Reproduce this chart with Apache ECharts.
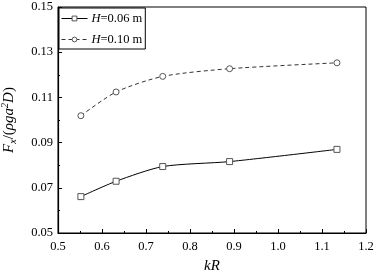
<!DOCTYPE html>
<html>
<head>
<meta charset="utf-8">
<script src="https://cdn.jsdelivr.net/npm/echarts@6/dist/echarts.min.js"></script>
<style>
  html, body { margin: 0; padding: 0; background: #fff; }
  #chart { width: 376px; height: 275px; }
</style>
</head>
<body>
<div id="chart"></div>
<script>
// kR vs Fx/(rho g a^2 D)
var kR = [0.552, 0.632, 0.738, 0.890, 1.134];
var h006 = [0.0661, 0.0729, 0.0794, 0.0816, 0.0870];
var h010 = [0.1019, 0.1124, 0.1193, 0.1227, 0.1253];
var seriesNames = ['H=0.06 m', 'H=0.10 m'];

var serif = 'Liberation Serif';

function pairs(xs, ys) {
  var out = [];
  for (var i = 0; i < xs.length; i++) out.push([xs[i], ys[i]]);
  return out;
}

var chart = echarts.init(document.getElementById('chart'));
chart.setOption({
  animation: false,
  backgroundColor: '#fff',
  grid: {
    left: 58, right: 10, top: 7, bottom: 42,
    containLabel: false, outerBoundsMode: 'none',
    show: true, borderColor: '#000', borderWidth: 1
  },
  legend: {
    left: 59, top: 8, orient: 'vertical',
    itemWidth: 26, itemHeight: 6, itemGap: 8,
    padding: [4, 3, 3, 2],
    borderColor: '#000', borderWidth: 1,
    backgroundColor: '#fff',
    lineStyle: { width: 1 },
    itemStyle: { borderWidth: 1 },
    textStyle: {
      fontFamily: serif, fontSize: 12.5, color: '#000', padding: [0, 0, 0, -1],
      rich: { i: { fontFamily: serif, fontSize: 12.5, fontStyle: 'italic' } }
    },
    formatter: function (name) {
      return '{i|H}=' + name.slice(2);
    },
    data: seriesNames
  },
  xAxis: {
    type: 'value', min: 0.5, max: 1.2, interval: 0.1,
    name: 'kR', nameLocation: 'middle', nameGap: 26,
    nameTextStyle: { fontFamily: serif, fontSize: 15, fontStyle: 'italic', color: '#000' },
    axisLine: { lineStyle: { color: '#000', width: 1.2 } },
    axisTick: { inside: true, length: 4, lineStyle: { color: '#000' } },
    minorTick: { show: true, splitNumber: 2, length: 2, lineStyle: { color: '#000' } },
    splitLine: { show: false },
    axisLabel: {
      fontFamily: serif, fontSize: 12.5, color: '#000', margin: 7,
      formatter: function (v) { return v.toFixed(1); }
    }
  },
  yAxis: {
    type: 'value', min: 0.05, max: 0.15, interval: 0.02,
    name: '{i|F}{sub|x}{n|/(}{i|ρga}{sup|2}{i|D}{n|)}',
    nameLocation: 'middle', nameGap: 40, nameRotate: 90,
    nameTextStyle: {
      fontFamily: serif, fontSize: 15, color: '#000',
      rich: {
        i: { fontFamily: serif, fontSize: 15, fontStyle: 'italic', lineHeight: 18, verticalAlign: 'middle' },
        n: { fontFamily: serif, fontSize: 15, lineHeight: 18, verticalAlign: 'middle' },
        sub: { fontFamily: serif, fontSize: 10, fontStyle: 'italic', lineHeight: 18, verticalAlign: 'bottom' },
        sup: { fontFamily: serif, fontSize: 10, fontStyle: 'italic', lineHeight: 18, verticalAlign: 'top' }
      }
    },
    axisLine: { show: true, lineStyle: { color: '#000', width: 1.2 } },
    axisTick: { show: true, inside: true, length: 4, lineStyle: { color: '#000' } },
    minorTick: { show: true, splitNumber: 2, length: 2, lineStyle: { color: '#000' } },
    splitLine: { show: false },
    axisLabel: {
      fontFamily: serif, fontSize: 12.5, color: '#000', margin: 5,
      formatter: function (v) { return v.toFixed(2); }
    }
  },
  series: [
    {
      name: seriesNames[0], type: 'line', smooth: 0.25,
      data: pairs(kR, h006),
      symbol: 'rect', symbolSize: 6,
      lineStyle: { color: '#000', width: 1 },
      itemStyle: { color: '#fff', borderColor: '#555', borderWidth: 1 }
    },
    {
      name: seriesNames[1], type: 'line', smooth: 0.25,
      data: pairs(kR, h010),
      symbol: 'circle', symbolSize: 6,
      lineStyle: { color: '#333', width: 1, type: [4, 3] },
      itemStyle: { color: '#fff', borderColor: '#555', borderWidth: 1 }
    }
  ]
});
</script>
</body>
</html>
